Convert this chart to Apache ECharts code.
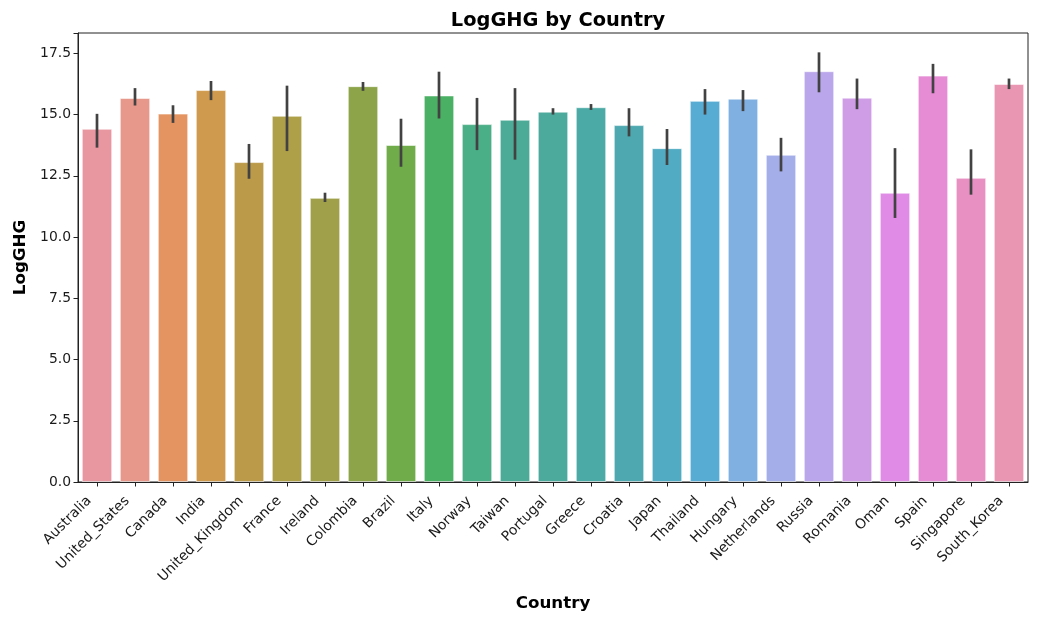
<!DOCTYPE html>
<html>
<head>
<meta charset="utf-8">
<script src="https://cdn.jsdelivr.net/npm/echarts@6/dist/echarts.min.js"></script>
<style>
  html, body { margin: 0; padding: 0; background: #fff; }
  #chart { width: 1040px; height: 617px; }
</style>
</head>
<body>
<div id="chart"></div>
<script>
// Mean LogGHG per country with confidence-interval bounds
const countries = ['Australia', 'United_States', 'Canada', 'India', 'United_Kingdom', 'France',
  'Ireland', 'Colombia', 'Brazil', 'Italy', 'Norway', 'Taiwan', 'Portugal', 'Greece', 'Croatia',
  'Japan', 'Thailand', 'Hungary', 'Netherlands', 'Russia', 'Romania', 'Oman', 'Spain',
  'Singapore', 'South_Korea'];
const meanValues = [14.42, 15.68, 15.04, 16.0, 13.06, 14.95, 11.6, 16.16, 13.76, 15.78, 14.61,
  14.79, 15.12, 15.30, 14.57, 13.63, 15.56, 15.65, 13.36, 16.77, 15.69, 11.81, 16.59, 12.42, 16.25];
const ciLow = [13.65, 15.37, 14.66, 15.59, 12.38, 13.51, 11.43, 15.97, 12.87, 14.84, 13.55,
  13.16, 15.0, 15.19, 14.11, 12.94, 15.0, 15.14, 12.68, 15.91, 15.22, 10.78, 15.87, 11.73, 16.04];
const ciHigh = [15.03, 16.08, 15.38, 16.37, 13.80, 16.18, 11.81, 16.33, 14.83, 16.75, 15.68,
  16.08, 15.26, 15.43, 15.26, 14.41, 16.04, 16.0, 14.05, 17.54, 16.47, 13.63, 17.07, 13.58, 16.47];
const yTicks = [0, 2.5, 5, 7.5, 10, 12.5, 15, 17.5];

// One hue per bar, sweeping around the colour wheel
const barColors = ['#e8969f', '#e8988a', '#e39460', '#cf9a4d', '#bb9a4a', '#ae9f49', '#9fa049',
  '#8da449', '#70ac4a', '#4ab063', '#4aae86', '#4bab96', '#4caa9d', '#4baaa5', '#4ea8b0',
  '#51acc3', '#57acd4', '#80afe2', '#a4aee8', '#baa6ea', '#ce9de6', '#e08ce6', '#e68cd4',
  '#e990c3', '#e996b3'];

const chart = echarts.init(document.getElementById('chart'), null, { renderer: 'canvas' });
const font = 'DejaVu Sans';

chart.setOption({
  animation: false,
  backgroundColor: '#ffffff',
  title: {
    text: 'LogGHG by Country',
    left: 553, top: 6, textAlign: 'center',
    textStyle: { fontFamily: font, fontSize: 19.4, fontWeight: 'bold', color: '#000' }
  },
  grid: { left: 78, right: 12, top: 33, bottom: 133, containLabel: false,
          show: true, borderColor: '#222', borderWidth: 1 },
  xAxis: {
    type: 'category',
    data: countries,
    name: 'Country',
    nameLocation: 'middle',
    nameGap: 113,
    nameTextStyle: { fontFamily: font, fontSize: 16.7, fontWeight: 'bold', color: '#000' },
    axisLine: { show: true, lineStyle: { color: '#222', width: 1 } },
    axisTick: { show: true, alignWithLabel: true, length: 4.5, lineStyle: { color: '#222' } },
    axisLabel: { rotate: 45, interval: 0, margin: 9, padding: [0, 11, 0, 0],
                 fontFamily: font, fontSize: 13.9, color: '#1a1a1a' },
    splitLine: { show: false }
  },
  yAxis: {
    type: 'value',
    min: 0, max: 18.33, interval: 2.5,
    name: 'LogGHG',
    nameLocation: 'middle',
    nameGap: 49,
    nameTextStyle: { fontFamily: font, fontSize: 16.7, fontWeight: 'bold', color: '#000' },
    axisLine: { show: true, lineStyle: { color: '#222', width: 1 } },
    axisTick: { show: true, length: 4.5, lineStyle: { color: '#222' } },
    axisLabel: {
      fontFamily: font, fontSize: 13.9, color: '#1a1a1a', margin: 7,
      formatter: v => (yTicks.some(t => Math.abs(t - v) < 1e-6) ? v.toFixed(1) : '')
    },
    splitLine: { show: false }
  },
  series: [
    {
      type: 'bar',
      barCategoryGap: '20%',
      data: meanValues.map((v, i) => ({
        value: v,
        itemStyle: { color: barColors[i], borderColor: 'rgba(255,255,255,0.55)', borderWidth: 1 }
      }))
    },
    {
      type: 'custom',
      z: 5,
      data: countries.map((c, i) => [i, ciLow[i], ciHigh[i]]),
      renderItem: (params, api) => {
        const lo = api.coord([api.value(0), api.value(1)]);
        const hi = api.coord([api.value(0), api.value(2)]);
        return {
          type: 'line',
          shape: { x1: lo[0], y1: lo[1], x2: hi[0], y2: hi[1] },
          style: { stroke: '#424242', lineWidth: 2.7 }
        };
      }
    }
  ]
});
</script>
</body>
</html>
